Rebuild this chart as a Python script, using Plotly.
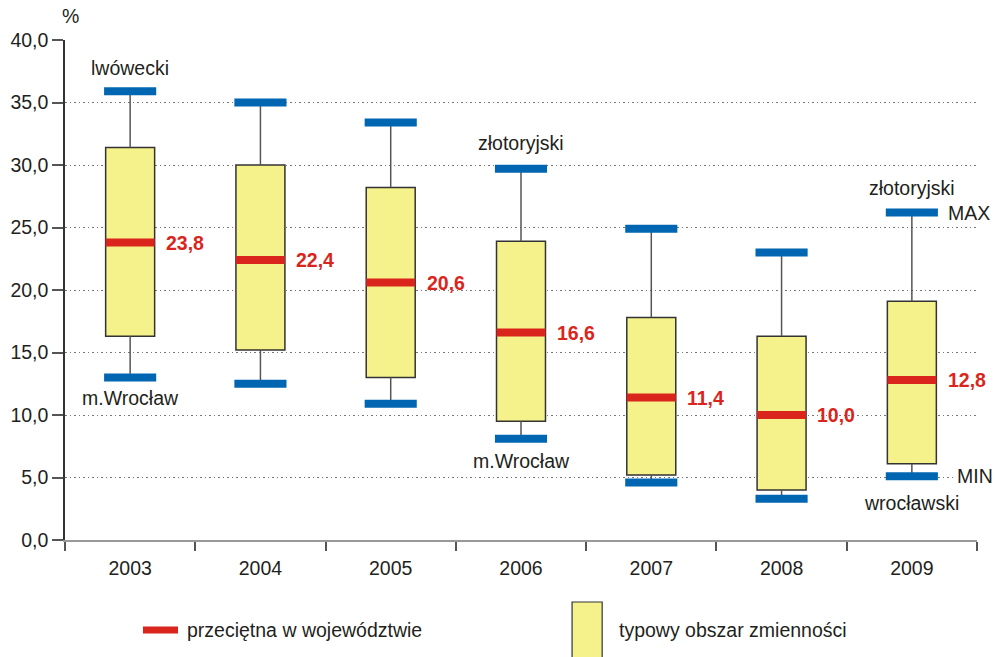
import plotly.graph_objects as go

# values (%)
years = ['2003', '2004', '2005', '2006', '2007', '2008', '2009']
max_vals = [35.9, 35.0, 33.4, 29.7, 24.9, 23.0, 26.2]
q3_vals = [31.4, 30.0, 28.2, 23.9, 17.8, 16.3, 19.1]
mean_vals = [23.8, 22.4, 20.6, 16.6, 11.4, 10.0, 12.8]
q1_vals = [16.3, 15.2, 13.0, 9.5, 5.2, 4.0, 6.1]
min_vals = [13.0, 12.5, 10.9, 8.1, 4.6, 3.3, 5.1]

# district names placed next to extremes: (year index, value, text)
district_labels = [
    (0, 37.8, 'lwówecki'),
    (0, 11.4, 'm.Wrocław'),
    (3, 31.8, 'złotoryjski'),
    (3, 6.3, 'm.Wrocław'),
    (6, 28.2, 'złotoryjski'),
    (6, 3.0, 'wrocławski'),
]

RED = '#DA251D'
BLUE = '#0066B1'
YELLOW = '#F5F28B'
TEXT = '#231F20'
FONT = 'Liberation Sans, Arial, sans-serif'
FS = 19.5

xs = list(range(len(years)))
box_w = 0.376
cap_half = 0.2
mean_half = box_w / 2

fig = go.Figure()

# whiskers: from min up to the box and from the box up to max
wx, wy = [], []
for i in xs:
    wx += [i, i, None, i, i, None]
    wy += [min_vals[i], q1_vals[i], None, q3_vals[i], max_vals[i], None]
fig.add_trace(go.Scatter(x=wx, y=wy, mode='lines', line=dict(color='#555555', width=1.5),
                         hoverinfo='skip', showlegend=False))

# boxes
fig.add_trace(go.Bar(x=xs, y=[q3_vals[i] - q1_vals[i] for i in xs], base=q1_vals, width=box_w,
                     marker=dict(color=YELLOW, line=dict(color='#333333', width=1.5)),
                     showlegend=False))

# mean lines
mx, my = [], []
for i in xs:
    mx += [i - mean_half, i + mean_half, None]
    my += [mean_vals[i], mean_vals[i], None]
fig.add_trace(go.Scatter(x=mx, y=my, mode='lines', line=dict(color=RED, width=8),
                         hoverinfo='skip', showlegend=False))

# min / max caps
cx, cy = [], []
for i in xs:
    cx += [i - cap_half, i + cap_half, None, i - cap_half, i + cap_half, None]
    cy += [max_vals[i], max_vals[i], None, min_vals[i], min_vals[i], None]
fig.add_trace(go.Scatter(x=cx, y=cy, mode='lines', line=dict(color=BLUE, width=8),
                         hoverinfo='skip', showlegend=False))

annotations = []
for i in xs:
    annotations.append(dict(x=i + 0.26, y=mean_vals[i], text='<b>' + f'{mean_vals[i]:.1f}'.replace('.', ',') + '</b>',
                            showarrow=False, xanchor='left', yanchor='middle',
                            font=dict(color=RED, size=FS, family=FONT)))
for i, v, t in district_labels:
    annotations.append(dict(x=i, y=v, text=t, showarrow=False, xanchor='center', yanchor='middle',
                            font=dict(color=TEXT, size=FS, family=FONT)))
annotations.append(dict(x=6.26, y=max_vals[6], text='MAX', showarrow=False, xanchor='left',
                        yanchor='middle', font=dict(color=TEXT, size=FS, family=FONT)))
annotations.append(dict(x=6.33, y=min_vals[6], text='MIN', showarrow=False, xanchor='left',
                        yanchor='middle', bgcolor='white', font=dict(color=TEXT, size=FS, family=FONT)))
annotations.append(dict(xref='paper', yref='paper', x=-0.006, y=1.048, text='%', showarrow=False,
                        xanchor='left', yanchor='middle', font=dict(color=TEXT, size=FS, family=FONT)))

# legend drawn by hand
annotations.append(dict(xref='paper', yref='paper', x=0.1316, y=-0.18, text='przeciętna w województwie',
                        showarrow=False, xanchor='left', yanchor='middle',
                        font=dict(color=TEXT, size=FS, family=FONT)))
annotations.append(dict(xref='paper', yref='paper', x=0.605, y=-0.18, text='typowy obszar zmienności',
                        showarrow=False, xanchor='left', yanchor='middle',
                        font=dict(color=TEXT, size=FS, family=FONT)))
shapes = [
    dict(type='line', xref='paper', yref='paper', x0=0.0855, x1=0.1239, y0=-0.18, y1=-0.18,
         line=dict(color=RED, width=7)),
    dict(type='rect', xref='paper', yref='paper', x0=0.556, x1=0.589, y0=-0.124, y1=-0.25,
         fillcolor=YELLOW, line=dict(color='#333333', width=1.2)),
]

fig.update_layout(
    width=995, height=657,
    margin=dict(l=65, r=18, t=40, b=117),
    plot_bgcolor='white', paper_bgcolor='white',
    separators=', ',
    showlegend=False,
    annotations=annotations,
    shapes=shapes,
    font=dict(family=FONT, color=TEXT, size=FS),
)
fig.update_yaxes(range=[0, 40], dtick=5, tickformat='.1f', showgrid=True, gridcolor='#777777',
                 griddash='1.5px,3px', gridwidth=1.2, zeroline=False, showline=True, linecolor='#333333',
                 linewidth=1.5, ticks='outside', ticklen=11, tickcolor='#555555', tickwidth=1.5,
                 tickfont=dict(size=FS, color=TEXT), automargin=False)
fig.update_xaxes(range=[-0.5, 6.5], tickvals=xs, ticktext=years, ticks='', showgrid=False,
                 zeroline=False, showline=True, linecolor='#999999', linewidth=2,
                 tickfont=dict(size=FS, color=TEXT), automargin=False, ticklabelstandoff=10,
                 minor=dict(tickvals=[i - 0.5 for i in range(len(years) + 1)], ticks='outside',
                            ticklen=9, tickcolor='#555555', tickwidth=1.5, showgrid=False))

# drop the default page margin so the figure sits at the window's corner
fig.write_html("out.html", config={'displayModeBar': False},
               post_script="document.body.style.margin='0';document.body.style.overflow='hidden';")
